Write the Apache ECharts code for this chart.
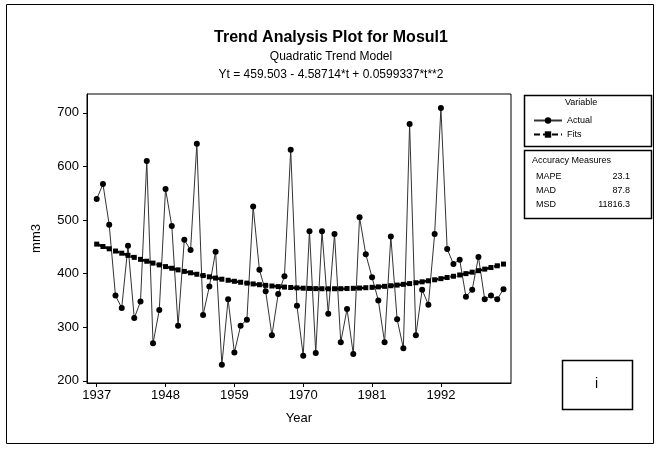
<!DOCTYPE html>
<html>
<head>
<meta charset="utf-8">
<title>Trend Analysis Plot for Mosul1</title>
<script src="https://cdn.jsdelivr.net/npm/echarts@6/dist/echarts.min.js"></script>
<style>
  html, body { margin: 0; padding: 0; background: #fff; }
  #chart { width: 657px; height: 450px; }
</style>
</head>
<body>
<div id="chart"></div>
<script>
const years = [1937, 1938, 1939, 1940, 1941, 1942, 1943, 1944, 1945, 1946,
  1947, 1948, 1949, 1950, 1951, 1952, 1953, 1954, 1955, 1956,
  1957, 1958, 1959, 1960, 1961, 1962, 1963, 1964, 1965, 1966,
  1967, 1968, 1969, 1970, 1971, 1972, 1973, 1974, 1975, 1976,
  1977, 1978, 1979, 1980, 1981, 1982, 1983, 1984, 1985, 1986,
  1987, 1988, 1989, 1990, 1991, 1992, 1993, 1994, 1995, 1996,
  1997, 1998, 1999, 2000, 2001, 2002]

// rainfall (mm3)
const actual = [539, 567, 491, 359, 336, 452, 317, 348, 610, 270,
  332, 558, 489, 303, 463, 444, 642, 323, 376, 441,
  230, 352, 253, 303, 314, 525, 407, 367, 285, 362,
  395, 631, 340, 247, 479, 252, 479, 325, 474, 272,
  334, 250, 505, 436, 393, 350, 272, 469, 315, 261,
  679, 285, 370, 342, 474, 709, 446, 418, 426, 357,
  370, 431, 352, 359, 352, 371]

// quadratic trend fits
const fits = [455.0, 450.6, 446.3, 442.1, 438.1, 434.1, 430.3, 426.6, 423.1, 419.6,
  416.3, 413.1, 410.0, 407.0, 404.2, 401.5, 398.8, 396.4, 394.0, 391.7,
  389.6, 387.6, 385.7, 383.9, 382.3, 380.8, 379.3, 378.1, 376.9, 375.8,
  374.9, 374.1, 373.4, 372.8, 372.4, 372.0, 371.8, 371.7, 371.8, 371.9,
  372.2, 372.6, 373.1, 373.7, 374.4, 375.3, 376.3, 377.4, 378.6, 380.0,
  381.4, 383.0, 384.7, 386.6, 388.5, 390.6, 392.8, 395.1, 397.5, 400.0,
  402.7, 405.5, 408.4, 411.4, 414.6, 417.8]

const xTicks = [1937, 1948, 1959, 1970, 1981, 1992]
const yTicks = [200, 300, 400, 500, 600, 700]

const measureNames = ['MAPE', 'MAD', 'MSD']
const measureValues = ['23.1', '87.8', '11816.3']

const font = 'Liberation Sans, Arial, sans-serif'

const chart = echarts.init(document.getElementById('chart'), null, { renderer: 'canvas' })

const measureTexts = []
measureNames.forEach((name, i) => {
  measureTexts.push({
    type: 'text', left: 536, top: 172 + i * 14,
    style: { text: name, fontSize: 9, fontFamily: font, fill: '#000' }
  })
  measureTexts.push({
    type: 'text', right: 657 - 630, top: 172 + i * 14,
    style: { text: measureValues[i], fontSize: 9, fontFamily: font, fill: '#000', textAlign: 'right' }
  })
})

chart.setOption({
  animation: false,
  backgroundColor: '#fff',
  title: {
    text: 'Trend Analysis Plot for Mosul1',
    subtext: 'Quadratic Trend Model\nYt = 459.503 - 4.58714*t + 0.0599337*t**2',
    left: 326,
    top: 25,
    textAlign: 'center',
    itemGap: 2,
    textStyle: { fontSize: 16, fontWeight: 'bold', fontFamily: font, color: '#000' },
    subtextStyle: { fontSize: 12, fontFamily: font, color: '#000', lineHeight: 18 }
  },
  legend: {
    data: ['Actual', 'Fits'],
    orient: 'vertical',
    left: 528,
    top: 111,
    itemWidth: 28,
    itemHeight: 8,
    itemGap: 5,
    textStyle: { fontSize: 9, fontFamily: font, color: '#000' }
  },
  grid: {
    left: 87,
    right: 146,
    top: 94,
    bottom: 67,
    show: true,
    borderColor: '#000',
    borderWidth: 1
  },
  xAxis: {
    type: 'value',
    min: 1935.45,
    max: 2003.2,
    name: 'Year',
    nameLocation: 'middle',
    nameGap: 29,
    nameTextStyle: { fontSize: 13, fontFamily: font, color: '#000' },
    splitLine: { show: false },
    axisLine: { lineStyle: { color: '#000' } },
    axisTick: { length: 4, lineStyle: { color: '#000' }, customValues: xTicks },
    axisLabel: {
      fontSize: 13, fontFamily: font, color: '#000', margin: 6,
      customValues: xTicks,
      formatter: v => String(v)
    }
  },
  yAxis: {
    type: 'value',
    min: 196,
    max: 735,
    name: 'mm3',
    nameLocation: 'middle',
    nameGap: 44,
    nameTextStyle: { fontSize: 13, fontFamily: font, color: '#000' },
    splitLine: { show: false },
    axisLine: { show: true, lineStyle: { color: '#000' } },
    axisTick: { show: true, length: 4, lineStyle: { color: '#000' }, customValues: yTicks },
    axisLabel: { fontSize: 13, fontFamily: font, color: '#000', margin: 8, customValues: yTicks }
  },
  series: [
    {
      name: 'Actual',
      type: 'line',
      data: years.map((y, i) => [y, actual[i]]),
      symbol: 'circle',
      symbolSize: 6,
      itemStyle: { color: '#000' },
      lineStyle: { color: '#333', width: 1 },
      z: 3
    },
    {
      name: 'Fits',
      type: 'line',
      data: years.map((y, i) => [y, fits[i]]),
      symbol: 'rect',
      symbolSize: 5,
      itemStyle: { color: '#000' },
      lineStyle: { color: '#000', width: 2.5, type: [6, 3] },
      z: 4
    }
  ],
  graphic: [
    {
      type: 'rect', shape: { x: 6.5, y: 4.5, width: 647, height: 439 },
      style: { fill: null, stroke: '#000', lineWidth: 1 }, silent: true
    },
    {
      type: 'rect', shape: { x: 524.5, y: 95.5, width: 127, height: 51 },
      style: { fill: null, stroke: '#000', lineWidth: 1.5 }, silent: true
    },
    {
      type: 'text', left: 565, top: 98,
      style: { text: 'Variable', fontSize: 9, fontFamily: font, fill: '#000' }
    },
    {
      type: 'rect', shape: { x: 524.5, y: 150.5, width: 127, height: 68 },
      style: { fill: null, stroke: '#000', lineWidth: 1.5 }, silent: true
    },
    {
      type: 'text', left: 532, top: 156,
      style: { text: 'Accuracy Measures', fontSize: 9, fontFamily: font, fill: '#000' }
    },
    ...measureTexts,
    {
      type: 'rect', shape: { x: 562.5, y: 360.5, width: 70, height: 49 },
      style: { fill: null, stroke: '#000', lineWidth: 1.5 }, silent: true
    },
    {
      type: 'text', left: 595, top: 377,
      style: { text: 'i', fontSize: 14, fontFamily: font, fill: '#000' }
    }
  ]
})
</script>
</body>
</html>
